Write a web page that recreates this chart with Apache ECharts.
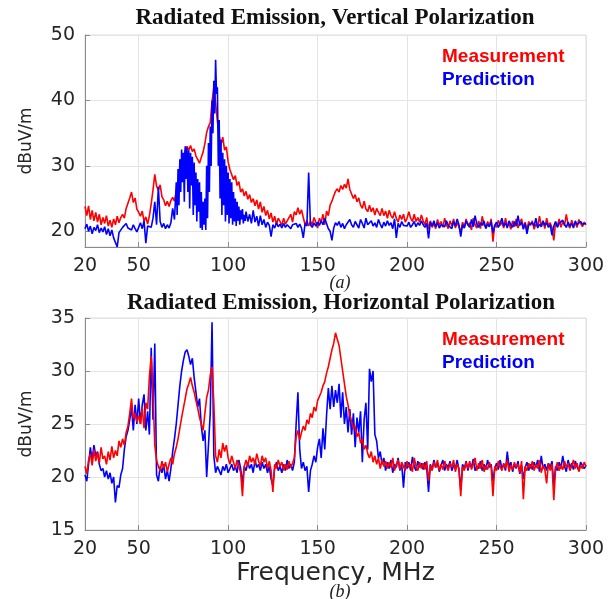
<!DOCTYPE html>
<html>
<head>
<meta charset="utf-8">
<script src="https://cdn.jsdelivr.net/npm/echarts@6/dist/echarts.min.js"></script>
<style>
  html, body { margin: 0; padding: 0; background: #fff; }
  #chart { width: 608px; height: 599px; }
</style>
</head>
<body>
<div id="chart"></div>
<script>
var xTicks = [20, 50, 100, 150, 200, 250, 300]
var yTicksV = [20, 30, 40, 50]

// (a) vertical polarization, measurement: 20..300 MHz, 1 MHz steps
var vertMeas = [
  23.8, 22.4, 23.9, 21.8, 23.2, 21.6, 22.9, 21.4, 22.6, 21.0,
  22.1, 21.2, 22.4, 20.8, 21.7, 20.6, 21.9, 21.0, 22.3, 21.3,
  22.1, 22.6, 22.0, 23.5, 24.3, 25.1, 26.0, 24.4, 25.1, 23.4,
  22.9, 22.3, 23.1, 21.5, 22.2, 21.1, 22.4, 24.2, 26.3, 28.7,
  26.9, 26.3, 27.1, 25.3, 24.8, 23.9, 24.6, 23.8, 24.7, 25.2,
  24.6, 26.0, 27.1, 27.9, 29.2, 31.0, 32.4, 33.0, 32.4, 33.1,
  32.2, 32.6, 31.5, 31.0, 30.4, 31.3, 32.1, 33.4, 35.1, 36.0,
  36.6, 39.8, 42.0, 39.6, 36.8, 34.6, 33.2, 34.4, 32.4, 32.9,
  30.6, 29.4, 29.1, 27.9, 28.5, 27.0, 27.6, 26.0, 26.5, 25.4,
  26.1, 24.9, 25.6, 24.4, 25.0, 23.9, 24.8, 23.4, 24.5, 22.9,
  23.8, 22.4, 23.2, 21.9, 22.8, 21.4, 22.3, 21.0, 22.0, 21.5,
  20.9, 22.0, 21.1, 21.6, 22.1, 22.6, 21.4, 23.0, 22.5, 23.6,
  22.6, 23.3, 22.1, 21.0, 21.6, 20.8, 21.5, 21.0, 22.1, 21.4,
  20.5, 22.0, 21.4, 22.6, 21.0, 23.1, 22.4, 24.0, 24.6, 25.4,
  26.1, 26.5, 26.0, 27.0, 26.4, 27.2, 26.6, 28.0, 26.4, 26.1,
  25.0, 25.6, 24.5, 25.1, 24.0, 23.5, 24.6, 23.4, 23.0, 24.0,
  23.0, 23.6, 22.5, 23.5, 22.9, 22.4, 23.5, 22.4, 23.1, 22.0,
  23.2, 22.4, 22.0, 23.0, 22.0, 21.4, 22.5, 21.8, 22.6, 21.4,
  22.0, 23.0, 22.0, 21.5, 22.6, 21.5, 22.1, 21.4, 22.5, 21.6,
  21.0, 22.1, 20.3, 21.6, 20.6, 21.2, 20.4, 21.8, 20.9, 21.5,
  20.6, 22.0, 21.0, 20.4, 21.6, 20.8, 21.9, 20.5, 21.3, 20.7,
  19.8, 21.4, 20.6, 21.9, 20.9, 21.3, 20.2, 22.0, 21.0, 20.5,
  21.6, 20.4, 22.3, 21.0, 20.6, 21.5, 20.8, 21.9, 18.4, 21.0,
  20.6, 21.7, 20.9, 21.4, 20.5, 22.0, 20.8, 21.2, 20.3, 21.6,
  20.7, 21.9, 20.5, 21.3, 21.9, 20.6, 21.4, 20.2, 21.5, 20.9,
  21.6, 20.3, 21.1, 20.7, 22.3, 20.8, 21.5, 20.4, 22.0, 20.9,
  21.3, 20.5, 18.6, 21.4, 20.8, 21.9, 20.6, 21.5, 20.9, 22.6,
  21.0, 20.5, 21.7, 20.9, 21.3, 20.6, 21.8, 21.2, 20.7, 21.4,
  21.0
]
// (a) prediction, 20..69 MHz, 1 MHz steps
var vertPredLow = [
  20.4, 21.1, 20.0, 20.8, 19.6, 20.6, 20.1, 21.0, 19.8, 20.5,
  19.9, 20.7, 19.5, 20.4, 19.3, 20.2, 19.0, 18.9, 17.6, 19.8,
  20.1, 20.6, 20.9, 21.2, 20.5, 20.8, 20.2, 21.0, 20.4, 19.9,
  20.6, 21.3, 20.4, 21.6, 18.2, 20.8, 21.0, 20.6, 22.0, 24.5,
  21.0, 26.8, 21.5, 20.6, 21.2, 20.4, 21.0, 20.5, 21.3, 23.5
]
// (a) prediction, 70..110 MHz, 0.5 MHz steps (dense resonance band)
var vertPredBand = [
  21.8, 24.5, 27.5, 22.5, 29.5, 24.0, 31.0, 26.0, 32.5, 27.5,
  32.0, 24.5, 33.0, 28.0, 32.8, 26.0, 32.4, 23.5, 32.0, 27.0,
  31.4, 22.5, 30.5, 24.0, 29.0, 21.5, 28.0, 23.0, 27.5, 20.5,
  26.0, 20.2, 24.5, 21.0, 25.0, 20.2, 30.0, 22.0, 33.5, 26.0,
  36.0, 30.0, 40.0, 35.0, 43.0, 38.0, 46.2, 41.0, 42.0, 30.0,
  37.0, 25.0, 34.0, 22.5, 32.0, 24.0, 31.0, 21.5, 30.0, 22.5,
  29.0, 21.2, 28.0, 22.0, 27.5, 21.0, 26.0, 21.5, 25.0, 20.8,
  24.5, 21.6, 23.8, 21.0, 23.2, 21.8, 23.4, 21.2, 22.5, 21.6,
  23.0
]
// (a) prediction, 111..300 MHz, 1 MHz steps
var vertPredHigh = [
  21.5, 22.6, 21.2, 23.2, 21.4, 22.3, 20.8, 22.4, 21.0,
  21.8, 20.6, 21.4, 20.9, 19.2, 21.0, 20.5, 21.3, 20.7, 21.1,
  20.5, 21.2, 20.6, 21.0, 21.3, 20.4, 21.0, 20.7, 21.2, 20.6,
  21.1, 20.5, 19.0, 21.2, 20.8, 29.0, 21.0, 20.6, 21.3, 20.8,
  21.4, 20.9, 21.6, 21.0, 22.0, 21.2, 20.4, 20.0, 18.6, 20.5,
  21.3, 20.9, 21.5, 20.6, 21.2, 20.4, 21.0, 20.7, 21.8, 21.0,
  20.6, 21.5, 21.0, 20.5, 21.8, 21.2, 20.5, 22.0, 21.0, 20.7,
  21.6, 20.8, 21.3, 20.6, 21.8, 21.1, 20.5, 21.4, 20.8, 21.6,
  20.9, 21.3, 20.4, 21.9, 19.0, 21.2, 20.6, 21.5, 20.9, 21.2,
  20.8, 21.4, 20.6, 21.0, 21.5, 20.7, 21.3, 20.9, 21.6, 21.0,
  20.6, 21.2, 18.9, 21.4, 20.8, 21.6, 20.7, 21.3, 20.5, 21.0,
  21.3, 20.7, 21.6, 20.9, 21.2, 20.4, 21.5, 20.8, 21.9, 21.0,
  19.2, 21.0, 20.5, 21.6, 21.0, 20.6, 21.8, 20.7, 22.4, 21.1,
  20.6, 21.3, 20.9, 21.6, 20.4, 21.1, 20.7, 21.5, 19.8, 20.9,
  21.4, 20.6, 21.2, 22.0, 20.8, 21.3, 20.5, 21.6, 21.0, 20.6,
  21.5, 20.8, 22.4, 20.9, 21.4, 20.3, 21.2, 19.6, 21.0, 20.7,
  21.3, 20.8, 22.0, 20.5, 21.1, 20.7, 21.6, 20.9, 21.3, 20.6,
  21.0, 19.4, 20.8, 21.5, 20.6, 21.2, 20.9, 21.7, 21.0, 20.6,
  21.4, 20.8, 21.2, 20.5, 21.6, 21.0, 20.7, 21.5, 21.1, 20.9,
  21.2
]

// (b) horizontal polarization: 20..300 MHz, 1 MHz steps
var horMeas = [
  21.0, 20.3, 21.6, 22.2, 21.1, 22.6, 21.5, 22.3, 21.3, 22.8,
  21.7, 22.0, 21.2, 22.4, 21.6, 22.9, 21.8, 22.5, 22.0, 23.4,
  22.8, 23.6, 23.0, 24.2, 24.8, 26.0, 27.4, 25.5, 26.0, 25.2,
  25.8, 25.0, 26.5, 24.6, 27.0, 26.4, 29.5, 31.4, 28.0, 23.0,
  21.6, 21.0, 20.6, 21.5, 20.8, 21.4, 20.5, 21.2, 21.8, 21.2,
  22.2, 22.8, 23.6, 24.6, 25.6, 26.5, 27.4, 28.3, 28.8, 29.4,
  28.6, 28.0, 27.2, 26.5, 25.6, 25.0, 24.4, 26.0, 27.5, 28.2,
  29.6, 30.4, 27.0, 22.0, 21.4, 22.6, 21.8, 23.2, 22.4, 23.0,
  21.8, 21.2, 22.0, 21.4, 20.8, 21.6, 21.0, 20.4, 18.2, 21.0,
  21.6, 21.0, 22.0, 21.4, 21.8, 21.2, 22.2, 21.5, 21.0, 22.0,
  21.4, 21.8, 20.8, 21.5, 20.6, 18.6, 21.2, 20.8, 21.6, 21.0,
  21.4, 20.6, 21.2, 20.7, 21.5, 20.9, 21.3, 21.8, 23.8, 24.4,
  23.5, 24.2, 24.8, 24.4, 25.4, 25.0, 26.0, 25.6, 26.6, 26.2,
  27.2, 27.6, 28.0, 28.6, 29.0, 29.8, 30.4, 31.2, 32.0, 32.6,
  33.6, 33.0, 32.4, 31.2, 30.0, 28.8, 27.6, 26.8, 25.8, 25.2,
  24.6, 24.8, 23.8, 24.2, 23.2, 23.6, 22.6, 23.0, 22.2, 21.8,
  22.4, 21.4, 22.0, 21.2, 21.8, 20.8, 21.6, 21.0, 21.5, 20.8,
  21.4, 20.9, 21.8, 20.6, 21.2, 21.6, 20.7, 21.4, 21.0, 20.6,
  21.5, 20.9, 21.2, 20.5, 21.8, 21.0, 20.6, 21.4, 20.8, 21.3,
  20.7, 21.5, 19.6, 21.1, 20.6, 21.4, 20.9, 21.6, 20.6, 21.2,
  20.7, 21.5, 21.0, 20.6, 21.3, 20.9, 21.6, 20.5, 21.2, 20.8,
  18.2, 21.0, 20.6, 21.4, 20.8, 21.5, 20.7, 21.2, 21.8, 20.6,
  21.3, 20.8, 21.6, 20.5, 21.1, 20.7, 21.4, 20.9, 18.2, 21.0,
  20.6, 21.5, 21.0, 20.6, 21.3, 20.8, 21.6, 20.5, 21.1, 20.7,
  21.4, 20.9, 21.2, 20.4, 21.5, 17.9, 21.0, 20.6, 21.3, 20.8,
  21.5, 20.6, 21.2, 20.8, 21.6, 20.4, 21.1, 20.7, 19.4, 21.3,
  20.6, 21.2, 17.8, 20.8, 21.4, 20.6, 21.1, 20.7, 21.5, 20.9,
  21.3, 20.6, 21.0, 21.6, 20.8, 21.3, 20.5, 21.1, 20.8, 21.4,
  21.0
]
var horPred = [
  20.2, 19.6, 21.2, 22.8, 21.6, 23.0, 22.0, 22.4, 21.2, 20.6,
  20.8, 20.0, 20.6, 19.8, 20.4, 19.4, 20.0, 17.6, 19.2, 19.0,
  20.2, 20.8, 22.6, 23.8, 24.4, 25.4, 26.6, 24.4, 26.8, 25.0,
  27.4, 25.0, 26.8, 27.8, 24.4, 26.2, 24.0, 32.2, 25.4, 32.6,
  20.2, 19.6, 21.0, 20.4, 21.2, 19.8, 20.6, 19.6, 20.8, 22.4,
  23.6, 25.0, 26.8, 28.6, 30.0, 31.0, 31.8, 32.0, 31.4, 30.6,
  31.2, 29.4, 28.0, 26.6, 27.4, 24.8, 23.4, 24.4, 20.0, 23.0,
  26.0, 34.6, 22.0, 20.4, 21.0, 20.6, 20.2, 21.0, 20.6, 21.2,
  20.4, 20.8, 21.2, 20.6, 21.0, 20.4, 21.6, 20.8, 19.4, 21.0,
  20.6, 21.4, 20.8, 21.2, 20.4, 21.6, 20.9, 21.2, 20.6, 21.4,
  20.8, 21.2, 20.4, 21.0, 19.8, 19.2, 20.8, 21.4, 20.6, 21.0,
  20.4, 21.2, 20.6, 21.6, 20.8, 21.2, 20.6, 21.4, 25.0, 28.0,
  22.6, 20.8, 21.4, 20.6, 21.0, 18.6, 20.6, 21.2, 22.0, 21.4,
  22.8, 23.6, 21.8, 24.6, 22.6, 25.8, 28.4, 26.4, 28.6, 26.6,
  28.2, 27.0, 28.8, 25.6, 28.0, 25.0, 26.6, 24.2, 26.4, 24.0,
  26.0, 22.8, 25.6, 24.2, 26.2, 21.4, 25.4, 27.0, 22.6, 30.2,
  29.0, 30.0, 24.0, 23.4, 21.8, 22.4, 21.2, 21.8, 20.6, 21.4,
  20.8, 21.6, 20.4, 21.2, 20.9, 21.8, 20.6, 21.2, 19.0, 21.4,
  20.8, 21.4, 20.6, 21.9, 21.0, 20.6, 21.5, 20.9, 21.3, 20.7,
  21.4, 20.8, 18.6, 21.2, 20.7, 21.6, 20.9, 21.3, 20.5, 21.1,
  21.6, 20.6, 21.2, 20.9, 21.5, 20.6, 21.1, 20.8, 21.6, 20.7,
  18.8, 21.2, 20.8, 21.5, 20.6, 21.3, 20.9, 21.7, 20.6, 21.0,
  20.8, 21.5, 20.6, 21.2, 20.7, 21.6, 20.9, 21.2, 19.6, 20.8,
  21.3, 20.7, 21.6, 20.8, 21.2, 20.6, 22.4, 20.9, 21.4, 20.5,
  21.2, 20.8, 21.5, 20.3, 21.1, 19.8, 20.9, 21.4, 20.6, 21.2,
  20.7, 21.4, 20.9, 21.6, 20.5, 22.0, 20.8, 21.2, 20.6, 21.3,
  20.9, 21.5, 19.2, 21.0, 20.6, 21.4, 20.8, 22.0, 21.0, 20.5,
  21.6, 20.9, 21.3, 20.7, 21.5, 21.0, 20.6, 21.4, 21.1, 20.8,
  21.1
]

// pair values with their frequencies (start MHz, step MHz)
function pairs (start, step, arr) {
  return arr.map(function (v, i) { return [start + i * step, v] })
}

var red = '#ff0000'
var blue = '#0000ff'
var tickFont = { fontFamily: 'DejaVu Sans', fontSize: 19, color: '#262626' }
var titleFont = { fontFamily: 'Liberation Serif', fontWeight: 'bold', fontSize: 23, color: '#111' }
var capFont = { fontFamily: 'Liberation Serif', fontStyle: 'italic', fontWeight: 'normal', fontSize: 18, color: '#222' }

function xAxisCfg (gridIndex, extra) {
  return Object.assign({
    type: 'value',
    gridIndex: gridIndex,
    min: 20,
    max: 300,
    axisLine: { lineStyle: { color: '#8a8a8a' } },
    axisTick: { inside: true, length: 5, customValues: xTicks, lineStyle: { color: '#8a8a8a' } },
    axisLabel: Object.assign({ margin: 10, customValues: xTicks }, tickFont),
    splitLine: { show: true, lineStyle: { color: '#e4e4e4' } }
  }, extra || {})
}

function yAxisCfg (gridIndex, extra) {
  return Object.assign({
    type: 'value',
    gridIndex: gridIndex,
    name: 'dBuV/m',
    nameLocation: 'middle',
    nameGap: 50,
    nameRotate: 90,
    nameTextStyle: { fontFamily: 'DejaVu Sans', fontSize: 17, color: '#262626' },
    axisLine: { show: true, lineStyle: { color: '#8a8a8a' } },
    axisTick: { show: true, inside: true, length: 5, lineStyle: { color: '#8a8a8a' } },
    axisLabel: Object.assign({ margin: 10 }, tickFont),
    splitLine: { show: true, lineStyle: { color: '#e4e4e4' } }
  }, extra || {})
}

function legendCfg (top) {
  return {
    top: top,
    left: 436,
    orient: 'vertical',
    itemWidth: 0,
    itemHeight: 0,
    itemGap: 4,
    padding: 0,
    selectedMode: false,
    textStyle: { fontFamily: 'Liberation Sans', fontWeight: 'bold', fontSize: 19 },
    data: [
      { name: 'Measurement', textStyle: { color: red } },
      { name: 'Prediction', textStyle: { color: blue } }
    ]
  }
}

function lineSeries (name, color, axis, data, z) {
  return {
    name: name,
    type: 'line',
    xAxisIndex: axis,
    yAxisIndex: axis,
    data: data,
    showSymbol: false,
    color: color,
    lineStyle: { width: 1.6, color: color },
    z: z
  }
}

var myChart = echarts.init(document.getElementById('chart'))
var option = {
  animation: false,
  backgroundColor: '#fff',
  title: [
    { text: 'Radiated Emission, Vertical Polarization', left: 335, top: 7, textAlign: 'center', padding: 0, textStyle: titleFont },
    { text: 'Radiated Emission, Horizontal Polarization', left: 341, top: 292, textAlign: 'center', padding: 0, textStyle: titleFont },
    { text: '(a)', left: 340, top: 274, textAlign: 'center', padding: 0, textStyle: capFont },
    { text: '(b)', left: 340, top: 583, textAlign: 'center', padding: 0, textStyle: capFont }
  ],
  legend: [legendCfg(47), legendCfg(330)],
  grid: [
    { left: 85, right: 22, top: 35, height: 212, show: true, borderColor: '#dcdcdc', borderWidth: 1 },
    { left: 85, right: 22, top: 318, height: 212, show: true, borderColor: '#dcdcdc', borderWidth: 1 }
  ],
  xAxis: [
    xAxisCfg(0),
    xAxisCfg(1, {
      name: 'Frequency, MHz',
      nameLocation: 'middle',
      nameGap: 31,
      nameTextStyle: { fontFamily: 'DejaVu Sans', fontSize: 25, color: '#262626' }
    })
  ],
  yAxis: [
    yAxisCfg(0, {
      min: 17.6,
      max: 50,
      axisTick: { show: true, inside: true, length: 5, customValues: yTicksV, lineStyle: { color: '#8a8a8a' } },
      axisLabel: Object.assign({ margin: 10, customValues: yTicksV }, tickFont)
    }),
    yAxisCfg(1, { min: 15, max: 35, interval: 5 })
  ],
  series: [
    lineSeries('Measurement', red, 0, pairs(20, 1, vertMeas), 2),
    lineSeries('Prediction', blue, 0,
      pairs(20, 1, vertPredLow).concat(pairs(70, 0.5, vertPredBand), pairs(111, 1, vertPredHigh)), 3),
    lineSeries('Prediction', blue, 1, pairs(20, 1, horPred), 2),
    lineSeries('Measurement', red, 1, pairs(20, 1, horMeas), 3)
  ]
}
myChart.clear()
myChart.setOption(option)
</script>
</body>
</html>
